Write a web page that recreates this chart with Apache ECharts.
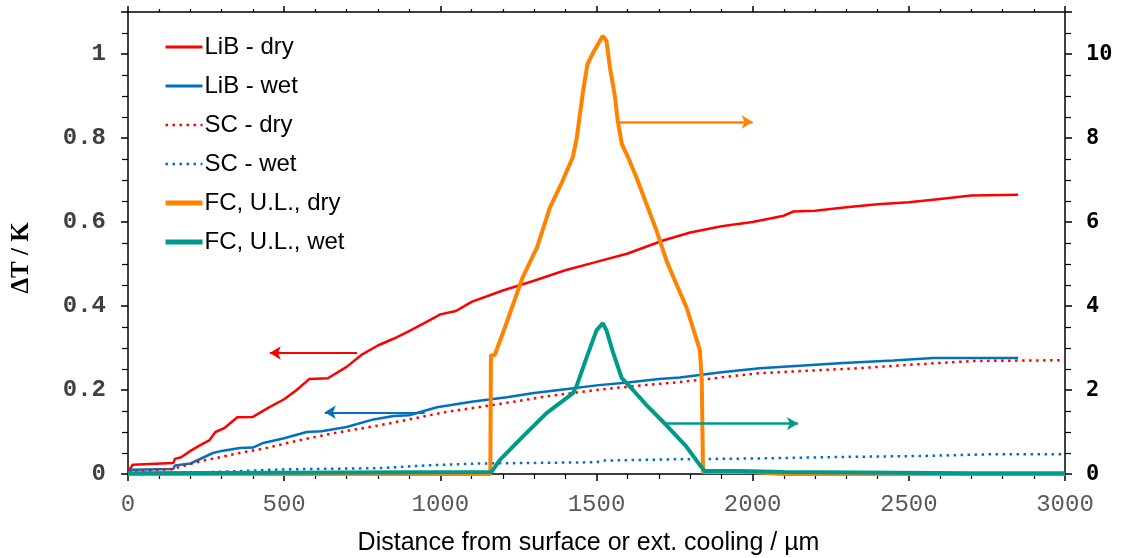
<!DOCTYPE html>
<html>
<head>
<meta charset="utf-8">
<script src="https://cdn.jsdelivr.net/npm/echarts@6/dist/echarts.min.js"></script>
<style>
  html, body { margin: 0; padding: 0; background: #fff; }
  #chart { width: 1123px; height: 558px; }
</style>
</head>
<body>
<div id="chart"></div>
<script>
// distance in µm, left axis ΔT in K
var libDryX = [0, 15, 20, 145, 150, 170, 200, 230, 260, 280, 310, 350, 400, 450, 500, 540, 580, 640, 700, 750, 800, 850, 900, 950, 1000, 1050, 1100, 1200, 1300, 1400, 1500, 1600, 1713, 1800, 1900, 2000, 2100, 2130, 2200, 2300, 2400, 2500, 2600, 2700, 2850];
var libDryY = [0.005, 0.022, 0.022, 0.026, 0.036, 0.04, 0.055, 0.068, 0.08, 0.1, 0.11, 0.135, 0.136, 0.158, 0.178, 0.2, 0.226, 0.228, 0.255, 0.285, 0.306, 0.322, 0.34, 0.36, 0.38, 0.388, 0.41, 0.437, 0.46, 0.485, 0.505, 0.525, 0.556, 0.575, 0.59, 0.6, 0.615, 0.625, 0.627, 0.635, 0.642, 0.647, 0.655, 0.663, 0.665];

var libWetX = [0, 10, 145, 150, 200, 272, 300, 358, 400, 433, 500, 572, 620, 700, 786, 850, 900, 989, 1100, 1213, 1300, 1400, 1500, 1600, 1700, 1767, 1900, 2023, 2150, 2290, 2450, 2578, 2700, 2850];
var libWetY = [0.003, 0.01, 0.012, 0.02, 0.025, 0.05, 0.055, 0.062, 0.063, 0.074, 0.085, 0.1, 0.102, 0.112, 0.13, 0.138, 0.14, 0.159, 0.172, 0.183, 0.193, 0.202, 0.211, 0.218, 0.226, 0.23, 0.242, 0.252, 0.258, 0.264, 0.27, 0.276, 0.276, 0.276];

var scDryX = [0, 143, 230, 358, 450, 528, 657, 806, 900, 1020, 1130, 1234, 1350, 1500, 1630, 1767, 1900, 2023, 2180, 2343, 2500, 2707, 2850, 3000];
var scDryY = [0.005, 0.012, 0.03, 0.05, 0.063, 0.077, 0.097, 0.116, 0.13, 0.148, 0.16, 0.172, 0.186, 0.2, 0.21, 0.219, 0.23, 0.24, 0.246, 0.252, 0.26, 0.269, 0.27, 0.271];

var scWetX = [0, 200, 358, 496, 806, 966, 1127, 1500, 1522, 1746, 2023, 2323, 2550, 2762, 3000];
var scWetY = [0.001, 0.003, 0.007, 0.011, 0.014, 0.021, 0.025, 0.028, 0.032, 0.035, 0.037, 0.041, 0.043, 0.047, 0.047];

// right axis
var fcDryX = [0, 1160, 1162, 1174, 1200, 1264, 1277, 1310, 1351, 1389, 1424, 1437, 1447, 1457, 1471, 1489, 1520, 1532, 1543, 1558, 1568, 1581, 1601, 1628, 1660, 1692, 1724, 1746, 1788, 1831, 1837, 1841, 2000, 2100, 3000];
var fcDryY = [0, 0, 2.83, 2.83, 3.35, 4.69, 4.89, 5.4, 6.35, 6.94, 7.54, 8.01, 8.57, 9.12, 9.76, 10.03, 10.43, 10.31, 9.67, 9.04, 8.41, 7.86, 7.54, 7.06, 6.43, 5.8, 5.08, 4.69, 3.97, 2.95, 2.23, 0.05, 0.05, 0, 0];

var fcWetX = [0, 1164, 1190, 1264, 1340, 1424, 1437, 1469, 1500, 1520, 1532, 1554, 1581, 1617, 1660, 1724, 1788, 1831, 1847, 1960, 2100, 2700, 3000];
var fcWetY = [0.02, 0.05, 0.33, 0.89, 1.45, 1.92, 2.11, 2.79, 3.42, 3.59, 3.42, 2.87, 2.28, 2.0, 1.64, 1.16, 0.65, 0.21, 0.07, 0.07, 0.05, 0.02, 0.02];

// arrows pointing at the axis each curve belongs to: [x from, x to, y]
var arrowLibDry = [733, 454, 0.288];
var arrowLibWet = [950, 630, 0.147];
var arrowFcDry = [1574, 2000, 8.38];
var arrowFcWet = [1719, 2145, 1.2];

var legendNames = ['LiB - dry', 'LiB - wet', 'SC - dry', 'SC - wet', 'FC, U.L., dry', 'FC, U.L., wet'];
var legendWidths = [3, 3, 2.5, 2.5, 5, 5];

function pairs(xs, ys) {
	var out = [];
	for (var i = 0; i < xs.length; i++) out.push([xs[i], ys[i]]);
	return out;
}

function arrow(a, color, w) {
	return {
		silent: true,
		symbol: ['none', 'arrow'],
		symbolSize: [10, 11],
		label: { show: false },
		lineStyle: { color: color, width: w, type: 'solid' },
		emphasis: { disabled: true },
		data: [[{ coord: [a[0], a[2]] }, { coord: [a[1], a[2]] }]]
	};
}

var legendData = legendNames.map(function(n, i) {
	return { name: n, lineStyle: { width: legendWidths[i] } };
});

var myChart = echarts.init(document.getElementById('chart'));

var axisLine = { show: true, onZero: false, lineStyle: { color: '#000', width: 1.5 } };

var option = {
	animation: false,
	grid: { left: 128, right: 58, top: 12, bottom: 84, containLabel: false, outerBoundsMode: 'none' },
	legend: {
		orient: 'vertical',
		left: 163,
		top: 35,
		padding: 0,
		itemWidth: 37,
		itemHeight: 20,
		itemGap: 15,
		itemStyle: { opacity: 0 },
		textStyle: { fontFamily: 'Liberation Sans', fontSize: 24, color: '#000', padding: [0, 0, 0, -3] },
		data: legendData
	},
	xAxis: [{
		type: 'value',
		min: 0,
		max: 3000,
		interval: 500,
		name: 'Distance from surface or ext. cooling / µm',
		nameLocation: 'middle',
		nameGap: 57,
		nameTextStyle: { fontFamily: 'Liberation Sans', fontSize: 25, color: '#000', padding: [0, 16, 0, 0] },
		axisLine: axisLine,
		axisTick: { show: true, length: 7, lineStyle: { color: '#000', width: 1.5 } },
		minorTick: { show: true, splitNumber: 5, length: 5, lineStyle: { color: '#000', width: 1.2 } },
		splitLine: { show: false },
		axisLabel: {
			margin: 19,
			fontFamily: 'Liberation Mono',
			fontSize: 24,
			color: '#595959',
			formatter: function(v) { return String(v); }
		}
	}, {
		type: 'value',
		position: 'top',
		min: 0,
		max: 3000,
		interval: 500,
		axisLine: axisLine,
		axisTick: { show: true, length: 6, lineStyle: { color: '#000', width: 1.5 } },
		minorTick: { show: true, splitNumber: 5, length: 3, lineStyle: { color: '#000', width: 1.2 } },
		splitLine: { show: false },
		axisLabel: { show: false }
	}],
	yAxis: [{
		type: 'value',
		min: 0,
		max: 1.1,
		interval: 0.2,
		name: 'ΔT / K',
		nameLocation: 'middle',
		nameGap: 94,
		nameTextStyle: { fontFamily: 'Liberation Serif', fontWeight: 'bold', fontSize: 25, color: '#000', padding: [0, 30, 0, 0] },
		axisLine: axisLine,
		axisTick: { show: true, length: 7, lineStyle: { color: '#000', width: 1.5 } },
		minorTick: { show: true, splitNumber: 4, length: 6, lineStyle: { color: '#000', width: 1.2 } },
		splitLine: { show: false },
		axisLabel: {
			margin: 22,
			showMaxLabel: false,
			fontFamily: 'Liberation Mono',
			fontWeight: 'bold',
			fontSize: 24,
			color: '#404040'
		}
	}, {
		type: 'value',
		position: 'right',
		min: 0,
		max: 11,
		interval: 2,
		axisLine: axisLine,
		axisTick: { show: true, length: 7, lineStyle: { color: '#000', width: 1.5 } },
		minorTick: { show: true, splitNumber: 4, length: 6, lineStyle: { color: '#000', width: 1.2 } },
		splitLine: { show: false },
		axisLabel: {
			margin: 21,
			showMaxLabel: false,
			fontFamily: 'DejaVu Sans Mono',
			fontWeight: 'bold',
			fontSize: 22,
			color: '#000'
		}
	}],
	series: [{
		name: 'LiB - dry',
		type: 'line',
		symbol: 'none',
		color: '#ff0000',
		lineStyle: { width: 2.5 },
		data: pairs(libDryX, libDryY),
		markLine: arrow(arrowLibDry, '#ff0000', 2)
	}, {
		name: 'LiB - wet',
		type: 'line',
		symbol: 'none',
		color: '#0070c0',
		lineStyle: { width: 2.5 },
		data: pairs(libWetX, libWetY),
		markLine: arrow(arrowLibWet, '#0070c0', 2)
	}, {
		name: 'SC - dry',
		type: 'line',
		symbol: 'none',
		color: '#ff0000',
		lineStyle: { width: 2.5, type: [2.5, 4.5] },
		data: pairs(scDryX, scDryY)
	}, {
		name: 'SC - wet',
		type: 'line',
		symbol: 'none',
		color: '#0070c0',
		lineStyle: { width: 2.5, type: [2.5, 4.5] },
		data: pairs(scWetX, scWetY)
	}, {
		name: 'FC, U.L., dry',
		type: 'line',
		yAxisIndex: 1,
		symbol: 'none',
		color: '#ff8300',
		lineStyle: { width: 4 },
		data: pairs(fcDryX, fcDryY),
		markLine: arrow(arrowFcDry, '#ff8300', 2.5)
	}, {
		name: 'FC, U.L., wet',
		type: 'line',
		yAxisIndex: 1,
		symbol: 'none',
		color: '#009a8a',
		lineStyle: { width: 4 },
		data: pairs(fcWetX, fcWetY),
		markLine: arrow(arrowFcWet, '#009a8a', 2.5)
	}]
};

myChart.setOption(option);
window.addEventListener('resize', function() {
	myChart.resize();
});
</script>
</body>
</html>
